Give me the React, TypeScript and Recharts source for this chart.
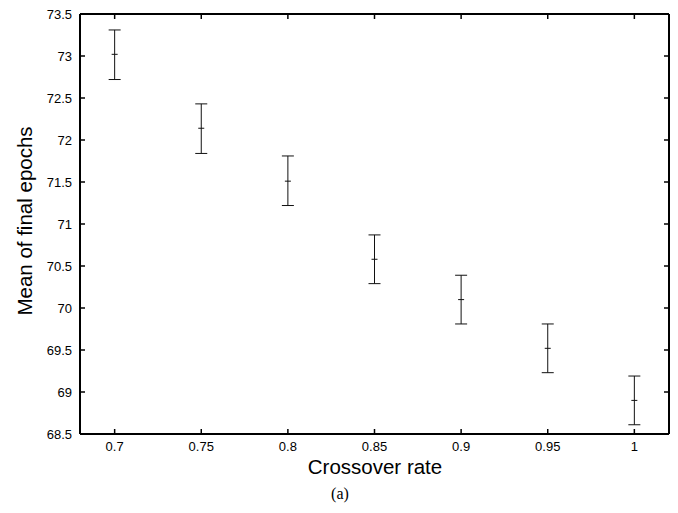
import React from "react";
import { ScatterChart, Scatter, XAxis, YAxis, ErrorBar } from "recharts";

const crossoverRates = [0.7, 0.75, 0.8, 0.85, 0.9, 0.95, 1];
const meanEpochs = [73.02, 72.14, 71.51, 70.58, 70.1, 69.52, 68.9];
const upperEpochs = [73.31, 72.43, 71.81, 70.87, 70.39, 69.81, 69.19];
const lowerEpochs = [72.72, 71.84, 71.22, 70.29, 69.81, 69.23, 68.61];
const xTicks = [0.7, 0.75, 0.8, 0.85, 0.9, 0.95, 1];
const yTicks = [68.5, 69, 69.5, 70, 70.5, 71, 71.5, 72, 72.5, 73, 73.5];

const data = crossoverRates.map((x, i) => ({
  x,
  y: meanEpochs[i],
  err: [meanEpochs[i] - lowerEpochs[i], upperEpochs[i] - meanEpochs[i]],
}));

const FONT = "'Liberation Sans', Arial, Helvetica, sans-serif";
const TICK_LEN = 5;
const X_MARGIN = 8;
const Y_MARGIN = 8;

const MeanTick = (props: any) => {
  const { cx, cy } = props;
  return <line x1={cx - 3} x2={cx + 3} y1={cy} y2={cy} stroke="#111" strokeWidth={1} />;
};

const Nothing = () => <g />;

const BottomTick = (props: any) => {
  const { x, y, payload } = props;
  const axisY = y - X_MARGIN;
  return (
    <g>
      <line x1={x} x2={x} y1={axisY} y2={axisY - TICK_LEN} stroke="#000" strokeWidth={1.5} />
      <text x={x} y={y} dy="0.71em" textAnchor="middle" fill="#000" fontSize={13} fontFamily={FONT}>
        {payload.value}
      </text>
    </g>
  );
};

const LeftTick = (props: any) => {
  const { x, y, payload } = props;
  const axisX = x + Y_MARGIN;
  return (
    <g>
      <line x1={axisX} x2={axisX + TICK_LEN} y1={y} y2={y} stroke="#000" strokeWidth={1.5} />
      <text x={x} y={y} dy="0.355em" textAnchor="end" fill="#000" fontSize={13} fontFamily={FONT}>
        {payload.value}
      </text>
    </g>
  );
};

const TopTick = (props: any) => {
  const { x, y } = props;
  return <line x1={x} x2={x} y1={y} y2={y + TICK_LEN} stroke="#000" strokeWidth={1.5} />;
};

const RightTick = (props: any) => {
  const { x, y } = props;
  return <line x1={x} x2={x - TICK_LEN} y1={y} y2={y} stroke="#000" strokeWidth={1.5} />;
};

const X_DOMAIN: [number, number] = [0.68, 1.02];
const Y_DOMAIN: [number, number] = [68.5, 73.5];

export default function App() {
  const axisLine = { stroke: "#000", strokeWidth: 2 };
  return (
    <div style={{ position: "absolute", left: 0, top: 0, width: 678, height: 513, background: "#fff" }}>
      <ScatterChart width={678} height={513} margin={{ top: 13, right: 8, bottom: 0, left: 0 }}>
        <XAxis
          xAxisId={0}
          dataKey="x"
          type="number"
          domain={X_DOMAIN}
          ticks={xTicks}
          allowDataOverflow
          height={79}
          axisLine={axisLine}
          tickLine={false}
          tickSize={0}
          tickMargin={X_MARGIN}
          tick={<BottomTick />}
          interval={0}
        />
        <XAxis
          xAxisId="top"
          dataKey="x"
          orientation="top"
          type="number"
          domain={X_DOMAIN}
          ticks={xTicks}
          allowDataOverflow
          height={1}
          axisLine={axisLine}
          tickLine={false}
          tickSize={0}
          tickMargin={0}
          tick={<TopTick />}
          interval={0}
        />
        <YAxis
          yAxisId={0}
          dataKey="y"
          type="number"
          domain={Y_DOMAIN}
          ticks={yTicks}
          allowDataOverflow
          width={80}
          axisLine={axisLine}
          tickLine={false}
          tickSize={0}
          tickMargin={Y_MARGIN}
          tick={<LeftTick />}
          interval={0}
        />
        <YAxis
          yAxisId="right"
          dataKey="y"
          orientation="right"
          type="number"
          domain={Y_DOMAIN}
          ticks={yTicks}
          allowDataOverflow
          width={1}
          axisLine={axisLine}
          tickLine={false}
          tickSize={0}
          tickMargin={0}
          tick={<RightTick />}
          interval={0}
        />
        <Scatter data={data} dataKey="y" shape={<Nothing />} isAnimationActive={false} xAxisId="top" yAxisId="right" />
        <Scatter data={data} dataKey="y" shape={<MeanTick />} isAnimationActive={false} xAxisId={0} yAxisId={0}>
          <ErrorBar dataKey="err" direction="y" width={6} stroke="#111" strokeWidth={1} isAnimationActive={false} />
        </Scatter>
      </ScatterChart>
      <div
        style={{
          position: "absolute",
          left: 25,
          top: 221,
          transform: "translate(-50%, -50%) rotate(-90deg)",
          whiteSpace: "nowrap",
          fontFamily: FONT,
          fontSize: 20.5,
          color: "#000",
          lineHeight: 1,
        }}
      >
        Mean of final epochs
      </div>
      <div
        style={{
          position: "absolute",
          left: 375,
          top: 467,
          transform: "translate(-50%, -50%)",
          whiteSpace: "nowrap",
          fontFamily: FONT,
          fontSize: 20.5,
          color: "#000",
          lineHeight: 1,
        }}
      >
        Crossover rate
      </div>
      <div
        style={{
          position: "absolute",
          left: 340,
          top: 494,
          transform: "translate(-50%, -50%)",
          whiteSpace: "nowrap",
          fontFamily: "'Liberation Serif', 'Times New Roman', serif",
          fontSize: 16,
          color: "#000",
          lineHeight: 1,
        }}
      >
        (a)
      </div>
    </div>
  );
}
